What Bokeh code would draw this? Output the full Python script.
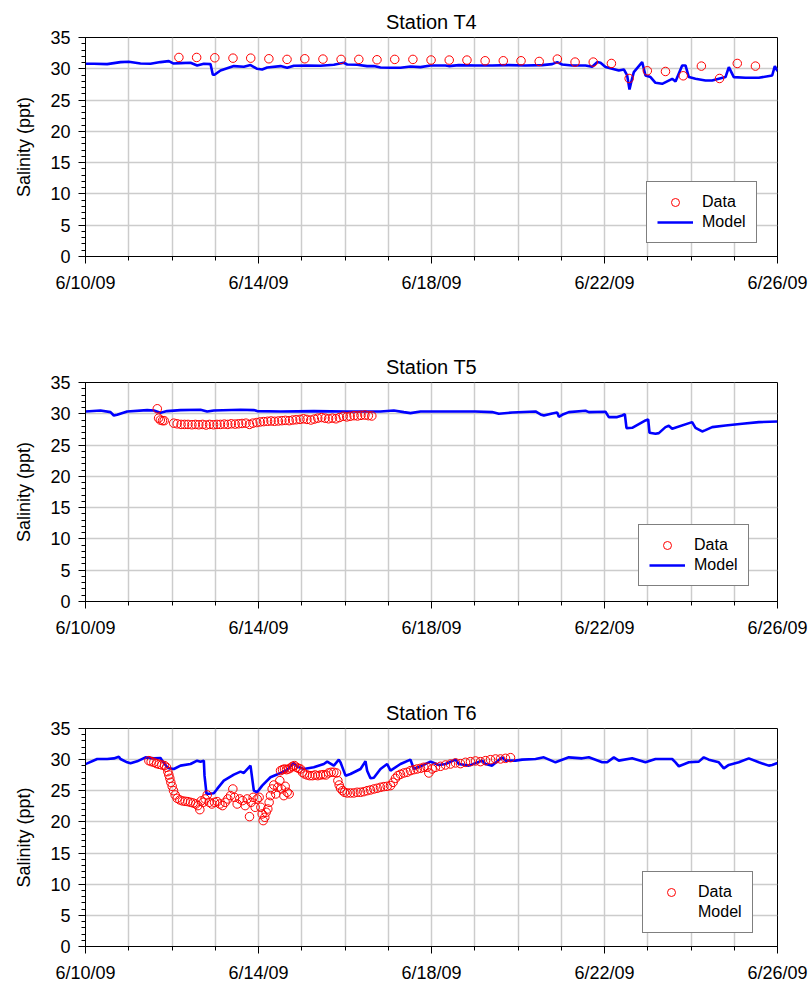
from bokeh.plotting import figure
from bokeh.models import FixedTicker, Legend, LegendItem, Range1d
from bokeh.layouts import column
from bokeh.embed import file_html
from bokeh.resources import INLINE

# ---------------- data (x = days since 6/10/09) ----------------
x_tick_days = [0, 4, 8, 12, 16]
x_tick_labels = ["6/10/09", "6/14/09", "6/18/09", "6/22/09", "6/26/09"]

# Station T4
t4_model_day = [0.0, 0.193, 0.501, 0.809, 1.0, 1.272, 1.503, 1.734, 1.927, 2.027, 2.197, 2.428, 2.582,
                2.736, 2.89, 2.944, 2.983, 3.121, 3.43, 3.661, 3.815, 3.969, 4.085, 4.2, 4.509, 4.663,
                4.817, 5.125, 5.434, 5.742, 5.973, 6.05, 6.281, 6.512, 6.667, 6.821, 7.052, 7.283,
                7.514, 7.746, 7.977, 8.323, 8.4, 8.632, 9.017, 9.403, 9.788, 10.173, 10.559, 10.79,
                10.906, 11.021, 11.252, 11.561, 11.715, 11.831, 11.908, 12.023, 12.177, 12.331,
                12.447, 12.524, 12.578, 12.617, 12.678, 12.871, 12.948, 13.064, 13.179, 13.333,
                13.565, 13.642, 13.796, 13.873, 13.95, 14.104, 14.335, 14.489, 14.643, 14.798,
                14.875, 14.99, 15.26, 15.568, 15.877, 15.938, 16.0]
t4_model_sal = [30.8, 30.8, 30.75, 31.07, 31.12, 30.85, 30.8, 31.07, 31.23, 30.85, 30.9, 30.96, 30.53,
                30.8, 30.75, 29.04, 29.04, 29.73, 30.43, 30.32, 30.59, 30.0, 29.89, 30.21, 30.43, 30.16,
                30.48, 30.53, 30.48, 30.64, 30.96, 30.69, 30.64, 30.43, 30.43, 30.21, 30.16, 30.16,
                30.37, 30.27, 30.53, 30.53, 30.43, 30.59, 30.53, 30.53, 30.59, 30.53, 30.59, 30.75,
                31.07, 30.69, 30.53, 30.53, 30.32, 31.07, 30.96, 30.27, 30.0, 29.73,
                29.89, 28.93, 26.7, 27.87, 29.47, 31.07, 28.93, 28.67, 27.76, 27.6,
                28.4, 27.97, 30.53, 30.53, 28.67, 28.4, 28.13, 28.13, 28.4, 28.67,
                30.27, 28.67, 28.56, 28.56, 28.93, 30.43, 29.63]
t4_data_day = [2.16, 2.57, 2.99, 3.41, 3.82, 4.24, 4.66, 5.07, 5.49, 5.91, 6.32, 6.74, 7.15, 7.57,
               7.99, 8.41, 8.82, 9.24, 9.66, 10.07, 10.49, 10.91, 11.32, 11.74, 12.16, 12.57,
               12.99, 13.41, 13.82, 14.24, 14.66, 15.07, 15.49]
t4_data_sal = [31.81, 31.81, 31.76, 31.7, 31.7, 31.6, 31.5, 31.6, 31.55, 31.5, 31.5, 31.44, 31.5,
               31.5, 31.4, 31.39, 31.39, 31.28, 31.28, 31.28, 31.17, 31.55, 31.07, 31.07, 30.85,
               28.45, 29.68, 29.57, 28.88, 30.43, 28.45, 30.85, 30.43]

# Station T5
t5_model_day = [0.0, 0.347, 0.578, 0.655, 0.732, 0.963, 1.426, 1.58, 1.734, 1.888, 2.197, 2.659,
                2.813, 2.967, 3.584, 3.892, 3.969, 4.509, 5.279, 6.05, 6.821, 7.129, 7.36, 7.514,
                7.746, 7.977, 9.017, 9.403, 9.557, 9.865, 10.405, 10.521, 10.598, 10.79, 10.906,
                10.945, 11.021, 11.175, 11.561, 11.638, 12.023, 12.1, 12.293, 12.408, 12.47,
                12.509, 12.64, 12.948, 13.01, 13.041, 13.179, 13.256, 13.41, 13.487, 13.564,
                14.026, 14.104, 14.258, 14.335, 14.489, 14.798, 15.183, 15.568, 16.0]
t5_model_sal = [30.37, 30.53, 30.27, 29.73, 29.84, 30.37, 30.59, 30.53, 30.16, 30.43, 30.59, 30.64,
                30.37, 30.53, 30.64, 30.59, 30.43, 30.37, 30.43, 30.37, 30.37, 30.53, 30.27, 30.11,
                30.37, 30.37, 30.37, 30.27, 30.0, 30.21, 30.37, 29.89, 29.73, 30.05, 30.21,
                29.52, 29.84, 30.27, 30.48, 30.27, 30.32, 29.47, 29.47, 29.73, 29.95,
                27.71, 27.76, 28.93, 29.09, 26.96, 26.8, 26.91, 27.87, 28.08, 27.6,
                28.67, 27.76, 27.18, 27.39, 27.87, 28.13, 28.4, 28.67, 28.77]
t5_data_day = [1.66, 1.69, 1.73, 1.78, 1.82,
               2.04, 2.12, 2.21, 2.29, 2.37, 2.46, 2.54, 2.62, 2.71, 2.79, 2.87, 2.96, 3.04, 3.12,
               3.21, 3.29, 3.37, 3.46, 3.54, 3.62, 3.71, 3.79, 3.87, 3.96, 4.04, 4.12, 4.21, 4.29,
               4.37, 4.46, 4.54, 4.62, 4.71, 4.79, 4.87, 4.96, 5.04, 5.12, 5.21, 5.29, 5.37, 5.46,
               5.54, 5.62, 5.71, 5.79, 5.87, 5.96, 6.04, 6.12, 6.21, 6.29, 6.37, 6.46, 6.54, 6.62]
t5_data_sal = [30.8, 29.3, 29.0, 28.9, 28.9,
               28.5, 28.4, 28.3, 28.3, 28.3, 28.25, 28.3, 28.25, 28.3, 28.2, 28.3, 28.25, 28.3, 28.3,
               28.35, 28.3, 28.4, 28.35, 28.4, 28.45, 28.5, 28.3, 28.5, 28.6, 28.7, 28.75, 28.8, 28.85,
               28.8, 28.85, 28.9, 28.95, 28.9, 29.0, 29.05, 29.1, 29.2, 29.1, 29.0, 29.15, 29.3, 29.4,
               29.3, 29.2, 29.3, 29.2, 29.4, 29.6, 29.5, 29.6, 29.7, 29.65, 29.75, 29.8, 29.7, 29.65]

# Station T6
t6_model_day = [0.0, 0.039, 0.27, 0.501, 0.655, 0.771, 0.809, 0.963, 1.04, 1.195, 1.387, 1.58, 1.734,
                1.773, 1.904, 2.043, 2.197, 2.428, 2.582, 2.659, 2.736, 2.752, 2.798, 2.967, 3.044,
                3.198, 3.43, 3.584, 3.661, 3.815, 3.892, 3.969, 4.085, 4.277, 4.509, 4.663, 4.755,
                4.817, 4.894, 5.048, 5.279, 5.51, 5.588, 5.742, 5.857, 5.896, 6.012, 6.127, 6.358,
                6.474, 6.512, 6.589, 6.667, 6.821, 6.975, 7.052, 7.283, 7.514, 7.591, 7.746, 7.977,
                8.015, 8.169, 8.323, 8.555, 8.632, 8.863, 9.171, 9.249, 9.403, 9.634, 9.711, 9.942,
                10.096, 10.405, 10.597, 10.867, 11.175, 11.484, 11.638, 11.946, 12.062, 12.216,
                12.331, 12.639, 12.948, 13.179, 13.564, 13.642, 13.719, 13.95, 14.181, 14.296,
                14.412, 14.643, 14.759, 14.874, 15.105, 15.337, 15.568, 15.799, 15.876, 16.0]
t6_model_sal = [29.3, 29.4, 30.1, 30.1, 30.2, 30.48, 30.1, 29.57, 29.41, 29.73, 30.37, 30.21, 30.27,
                29.84, 28.66, 28.5, 29.04, 29.3, 29.84, 29.68, 29.84, 27.43, 24.49, 24.6, 25.3,
                26.63, 27.6, 28.07, 27.86, 29.04, 25.03, 24.76, 25.83, 27.17, 27.86, 28.34, 29.04,
                29.47, 28.88, 28.5, 28.77, 29.3, 29.68, 29.04, 30.0, 29.57, 27.43, 27.7, 28.5,
                29.73, 28.23, 27.0, 27.1, 28.5, 29.3, 28.23, 29.3, 30.0, 28.5, 28.93, 29.68,
                29.57, 29.15, 29.3, 30.0, 29.3, 29.04, 29.84, 29.3, 29.04, 30.37, 29.84, 29.84,
                30.0, 30.11, 30.37, 29.57, 30.37, 30.21, 30.37, 29.57, 29.57, 30.37,
                29.84, 30.21, 29.57, 30.11, 30.11, 29.57, 28.93, 29.57, 29.68, 30.37,
                30.0, 29.57, 28.6, 29.15, 29.57, 30.21, 29.57, 29.04, 29.15, 29.47]
t6_data_day = [1.465, 1.518, 1.58, 1.642, 1.703, 1.765, 1.827, 1.873, 1.904, 1.927, 1.95, 1.973,
               2.004, 2.035, 2.073, 2.12, 2.181, 2.243, 2.304, 2.366, 2.428, 2.49, 2.551, 2.598,
               2.644, 2.675, 2.721, 2.767, 2.814, 2.86, 2.921, 2.983, 3.044, 3.106, 3.168, 3.229,
               3.291, 3.353, 3.407, 3.445, 3.507, 3.568, 3.63, 3.692, 3.738, 3.792, 3.831, 3.877,
               3.923, 3.969, 4.015, 4.054, 4.085, 4.108, 4.146, 4.177, 4.215, 4.246, 4.277, 4.316,
               4.354, 4.4, 4.447, 4.493, 4.532, 4.586, 4.617, 4.663, 4.709,
               4.509, 4.555, 4.601, 4.648, 4.694, 4.74, 4.786, 4.832, 4.879, 4.925, 4.971, 5.017,
               5.063, 5.125, 5.187, 5.248, 5.31, 5.372, 5.434, 5.495, 5.557, 5.619, 5.68, 5.742,
               5.804, 5.835, 5.865, 5.896, 5.942, 5.988, 6.05, 6.127, 6.204, 6.281, 6.358, 6.435,
               6.512, 6.589, 6.667, 6.744, 6.821, 6.898, 6.975, 7.052, 7.113, 7.167, 7.221, 7.283,
               7.36, 7.437, 7.514, 7.591, 7.668, 7.746, 7.823, 7.9, 7.938, 8.015, 8.092, 8.208,
               8.323, 8.439, 8.555, 8.67, 8.786, 8.902, 9.017, 9.133, 9.249, 9.364, 9.48, 9.595,
               9.711, 9.827]
t6_data_sal = [29.84, 29.68, 29.57, 29.36, 29.25, 29.14, 29.04, 28.77, 28.07, 27.54, 27.0, 26.36,
               25.72, 25.02, 24.33, 23.79, 23.53, 23.37, 23.31, 23.26, 23.15, 23.04, 22.88, 22.62,
               21.97, 23.37, 23.15, 23.69, 24.33, 23.15, 22.88, 23.15, 23.26, 22.88, 22.62, 23.15,
               23.69, 24.22, 25.29, 23.95, 22.88, 23.69, 23.42, 22.62, 23.69, 20.85, 23.15, 23.95,
               22.35, 23.69, 23.95, 22.35, 21.28, 20.21, 20.74, 21.55, 22.08, 23.15, 24.22, 25.29,
               25.93, 24.49, 25.56, 26.63, 25.29, 24.22, 25.72, 24.76, 24.49,
               28.23, 28.39, 28.5, 28.39, 28.5, 28.66, 28.93, 29.04, 28.77, 28.61, 28.5, 27.97,
               27.7, 27.54, 27.43, 27.43, 27.54, 27.43, 27.54, 27.59, 27.54, 27.86, 27.97, 27.97,
               27.86, 26.63, 25.93, 25.4, 25.02, 24.76, 24.65, 24.65, 24.65, 24.76, 24.76, 24.86,
               25.02, 25.13, 25.29, 25.4, 25.56, 25.67, 25.72, 25.83, 26.36, 27.0, 27.43, 27.65,
               27.86, 27.97, 28.23, 28.39, 28.5, 28.61, 28.77, 28.77, 27.86, 28.5, 28.77, 28.93,
               29.14, 29.3, 29.47, 29.36, 29.57, 29.68, 29.79, 29.68, 29.84, 30.0, 30.11, 30.11,
               30.21, 30.32]

FONT = "Liberation Sans"


def make_panel(title, mday, msal, dday, dsal, height, border_top, border_bottom, legend_loc,
               model_line_in_legend=True):
    p = figure(width=808, height=height, x_range=Range1d(0, 16), y_range=Range1d(0, 35),
               output_backend="svg", toolbar_location=None,
               min_border_left=85, min_border_right=31, min_border_top=border_top,
               min_border_bottom=border_bottom)
    p.title.text = title
    p.title.align = "center"
    p.title.text_font = FONT
    p.title.text_font_size = "20px"
    p.title.text_font_style = "normal"
    p.title.text_color = "black"
    p.title.standoff = 9

    p.outline_line_color = "black"
    p.outline_line_width = 1
    p.background_fill_color = "white"
    p.border_fill_color = "white"

    # axes
    p.xaxis.ticker = FixedTicker(ticks=x_tick_days, minor_ticks=list(range(17)))
    p.xaxis.major_label_overrides = {d: lab for d, lab in zip(x_tick_days, x_tick_labels)}
    p.yaxis.ticker = FixedTicker(ticks=list(range(0, 36, 5)), minor_ticks=list(range(36)))
    for ax in (p.xaxis[0], p.yaxis[0]):
        ax.axis_line_color = "black"
        ax.major_tick_line_color = "black"
        ax.minor_tick_line_color = "black"
        ax.major_tick_out = 7
        ax.major_tick_in = 0
        ax.minor_tick_out = 4
        ax.minor_tick_in = 0
        ax.major_label_text_font = FONT
        ax.major_label_text_font_size = "18px"
        ax.major_label_text_color = "black"
    p.xaxis.major_label_standoff = 9
    p.yaxis.major_label_standoff = 8
    p.yaxis.axis_label = "Salinity (ppt)"
    p.yaxis.axis_label_text_font = FONT
    p.yaxis.axis_label_text_font_size = "18px"
    p.yaxis.axis_label_text_font_style = "normal"
    p.yaxis.axis_label_text_color = "black"
    p.yaxis.axis_label_standoff = 13

    # grid
    p.xgrid.ticker = FixedTicker(ticks=list(range(17)))
    p.ygrid.ticker = FixedTicker(ticks=list(range(0, 36, 5)))
    for g in (p.xgrid[0], p.ygrid[0]):
        g.grid_line_color = "#cccccc"
        g.grid_line_width = 1.5

    model = p.line(mday, msal, line_color="#0000ff", line_width=2.6)
    data = p.scatter(dday, dsal, marker="circle", size=8.5, fill_color=None,
                     line_color="#ff0000", line_width=1)

    if model_line_in_legend:
        model_item = LegendItem(label="Model", renderers=[model])
    else:
        ghost = p.line([], [], line_alpha=0)
        model_item = LegendItem(label="Model", renderers=[ghost])

    legend = Legend(items=[LegendItem(label="Data", renderers=[data]), model_item],
                    location=legend_loc)
    legend.margin = 0
    legend.padding = 10
    legend.spacing = 0
    legend.glyph_width = 36
    legend.glyph_height = 20
    legend.label_height = 20
    legend.label_standoff = 9
    legend.label_text_font = FONT
    legend.label_text_font_size = "16px"
    legend.label_text_color = "black"
    legend.border_line_color = "black"
    legend.border_line_width = 1
    legend.background_fill_color = "white"
    legend.background_fill_alpha = 1
    p.add_layout(legend)
    return p


p1 = make_panel("Station T4", t4_model_day, t4_model_sal, t4_data_day, t4_data_sal,
                345, 37, 89, (561, 13))
p2 = make_panel("Station T5", t5_model_day, t5_model_sal, t5_data_day, t5_data_sal,
                345, 37, 89, (553, 15))
p3 = make_panel("Station T6", t6_model_day, t6_model_sal, t6_data_day, t6_data_sal,
                299, 38, 43, (557, 13), model_line_in_legend=False)

layout = column(p1, p2, p3, spacing=0)
open("out.html", "w").write(file_html(layout, INLINE))
